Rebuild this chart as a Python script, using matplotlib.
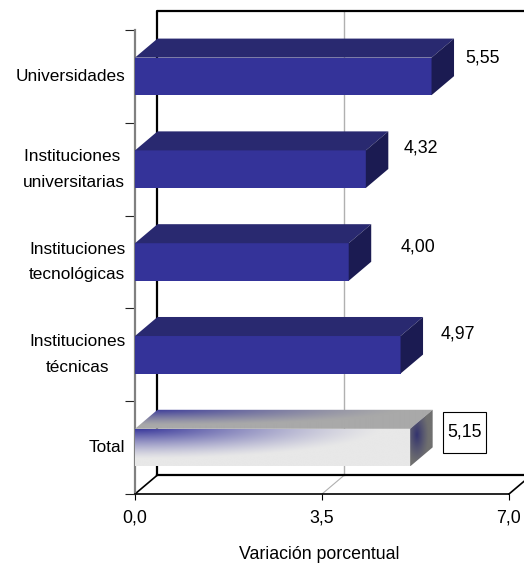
# Import matplotlib stuff
import matplotlib
matplotlib.use("Agg")
import matplotlib.pyplot as plt
from matplotlib.colors import LinearSegmentedColormap
from matplotlib.patches import Polygon, Rectangle

# Import numpy
import numpy as np

# Data
categories = ["Total", "Instituciones\ntécnicas", "Instituciones\ntecnológicas",
              "Instituciones \nuniversitarias", "Universidades"]
values = [5.15, 4.97, 4.00, 4.32, 5.55]
value_labels = ["5,15", "4,97", "4,00", "4,32", "5,55"]
x_ticks = [0.0, 3.5, 7.0]
x_tick_labels = ["0,0", "3,5", "7,0"]

# Label offsets in pixels from the end of each bar
label_offsets = [(54, 34), (57, 40), (69, 34), (55, 40), (51, 37)]

# Sizes in data units
W, H = 524, 564
DX = 22.5 / 53.43
DY = 0.205
BAR = 0.405


def gradient_face(ax, corners, end_color, start_color="#343399", radial=False):
    # Navy corner fading out over a parallelogram face, clipped to it
    xs = [c[0] for c in corners]
    ys = [c[1] for c in corners]
    extent = (min(xs), max(xs), min(ys), max(ys))
    u, v = np.meshgrid(np.linspace(0, 1, 300), np.linspace(0, 1, 120))
    if radial:
        w = np.clip(1 - np.hypot(u - 0.3, v - 0.45) * 1.9, 0, 1) ** 1.2
    else:
        w = np.clip(1 - np.hypot(u, v * 1.1) / 0.9, 0, 1) ** 1.3
    cmap = LinearSegmentedColormap.from_list("fade", [end_color, start_color])
    im = ax.imshow(w, extent=extent, origin="upper", cmap=cmap, vmin=0, vmax=1,
                   aspect="auto", zorder=3, interpolation="bilinear")
    clip = Polygon(corners, closed=True, transform=ax.transData, fill=False, lw=0)
    ax.add_patch(clip)
    im.set_clip_path(clip)


def plot_bars(ax):
    for i, val in enumerate(values):
        y0, y1 = i - BAR / 2, i + BAR / 2
        front = [(0, y0), (val, y0), (val, y1), (0, y1)]
        top = [(0, y1), (val, y1), (val + DX, y1 + DY), (DX, y1 + DY)]
        side = [(val, y0), (val + DX, y0 + DY), (val + DX, y1 + DY), (val, y1)]
        if i == 0:
            # Total bar has the gradient fill and a boxed label
            gradient_face(ax, front, "#e8e8e8")
            gradient_face(ax, top, "#a9a9a9")
            gradient_face(ax, side, "#707070", start_color="#33336e", radial=True)
            ax.add_patch(Rectangle((val + 0.615, i - 0.058), 0.805, 0.442, fc="white",
                                   ec="black", lw=0.8, zorder=4))

        else:
            ax.fill(*zip(*front), color="#343399", lw=0, zorder=3)
            ax.fill(*zip(*top), color="#292970", lw=0, zorder=3)
            ax.fill(*zip(*side), color="#1b1b52", lw=0, zorder=3)

        # Value labels
        ax.annotate(value_labels[i], xy=(val, y0), xytext=label_offsets[i],
                    textcoords="offset pixels", ha="center", va="center",
                    fontsize=12.8, zorder=5, annotation_clip=False)


def plot_frame(ax):
    top = 4.5 + (30 - 11) / 92.8
    # Back wall and floor
    ax.plot([DX, DX, 7.4], [-0.5 + DY, top, top], color="black", lw=1.6, zorder=1, clip_on=False)
    ax.plot([DX, 7.4], [-0.5 + DY, -0.5 + DY], color="black", lw=1.6, zorder=1, clip_on=False)
    ax.plot([0, DX], [-0.5, -0.5 + DY], color="black", lw=1.2, zorder=1, clip_on=False)
    ax.plot([7.0, 7.0 + DX], [-0.5, -0.5 + DY], color="black", lw=1.2, zorder=1, clip_on=False)
    # Grid line at 3,5
    ax.plot([3.5 + DX, 3.5 + DX], [-0.5 + DY, top], color="#b0b0b0", lw=1.0, zorder=0, clip_on=False)
    ax.plot([3.5, 3.5 + DX], [-0.5, -0.5 + DY], color="#b0b0b0", lw=0.8, zorder=0, clip_on=False)


def main():
    fig = plt.figure(figsize=(W / 100, H / 100), dpi=100)
    plt.rcParams["font.family"] = ["Liberation Sans", "DejaVu Sans"]

    # Axes placed so the front floor runs from (135, 494) to (509, 494)
    ax = fig.add_axes([135 / W, 1 - 494 / H, (509 - 135) / W, (494 - 30) / H])

    plot_frame(ax)
    plot_bars(ax)

    ax.set_xlim(0, 7)
    ax.set_ylim(-0.5, 4.5)

    # Ticks at the boundaries, labels at the centres
    ax.set_yticks(np.arange(-0.5, 5, 1))
    ax.set_yticklabels([])
    ax.set_yticks(range(len(categories)), minor=True)
    ax.set_yticklabels(categories, minor=True, fontsize=12.4, ha="right", va="center",
                       multialignment="center", linespacing=1.9)
    ax.tick_params(axis="y", which="minor", length=0, pad=7)
    ax.tick_params(axis="y", which="major", length=7, width=0.8, color="#222222")

    ax.set_xticks(x_ticks)
    ax.set_xticklabels(x_tick_labels, fontsize=12.8)
    ax.tick_params(axis="x", length=4, width=0.8, pad=7)
    ax.set_xlabel("Variación porcentual", fontsize=12.8)
    ax.xaxis.set_label_coords(0.492, -0.112)

    # Only the left and bottom spines are drawn
    ax.spines["top"].set_visible(False)
    ax.spines["right"].set_visible(False)
    ax.spines["left"].set_color("#808080")
    ax.spines["left"].set_linewidth(1.6)
    ax.spines["bottom"].set_color("black")
    ax.spines["bottom"].set_linewidth(1.2)
    ax.patch.set_alpha(0)

    plt.savefig("out.png", dpi=100)
    plt.close(fig)


if __name__ == '__main__':
    main()
